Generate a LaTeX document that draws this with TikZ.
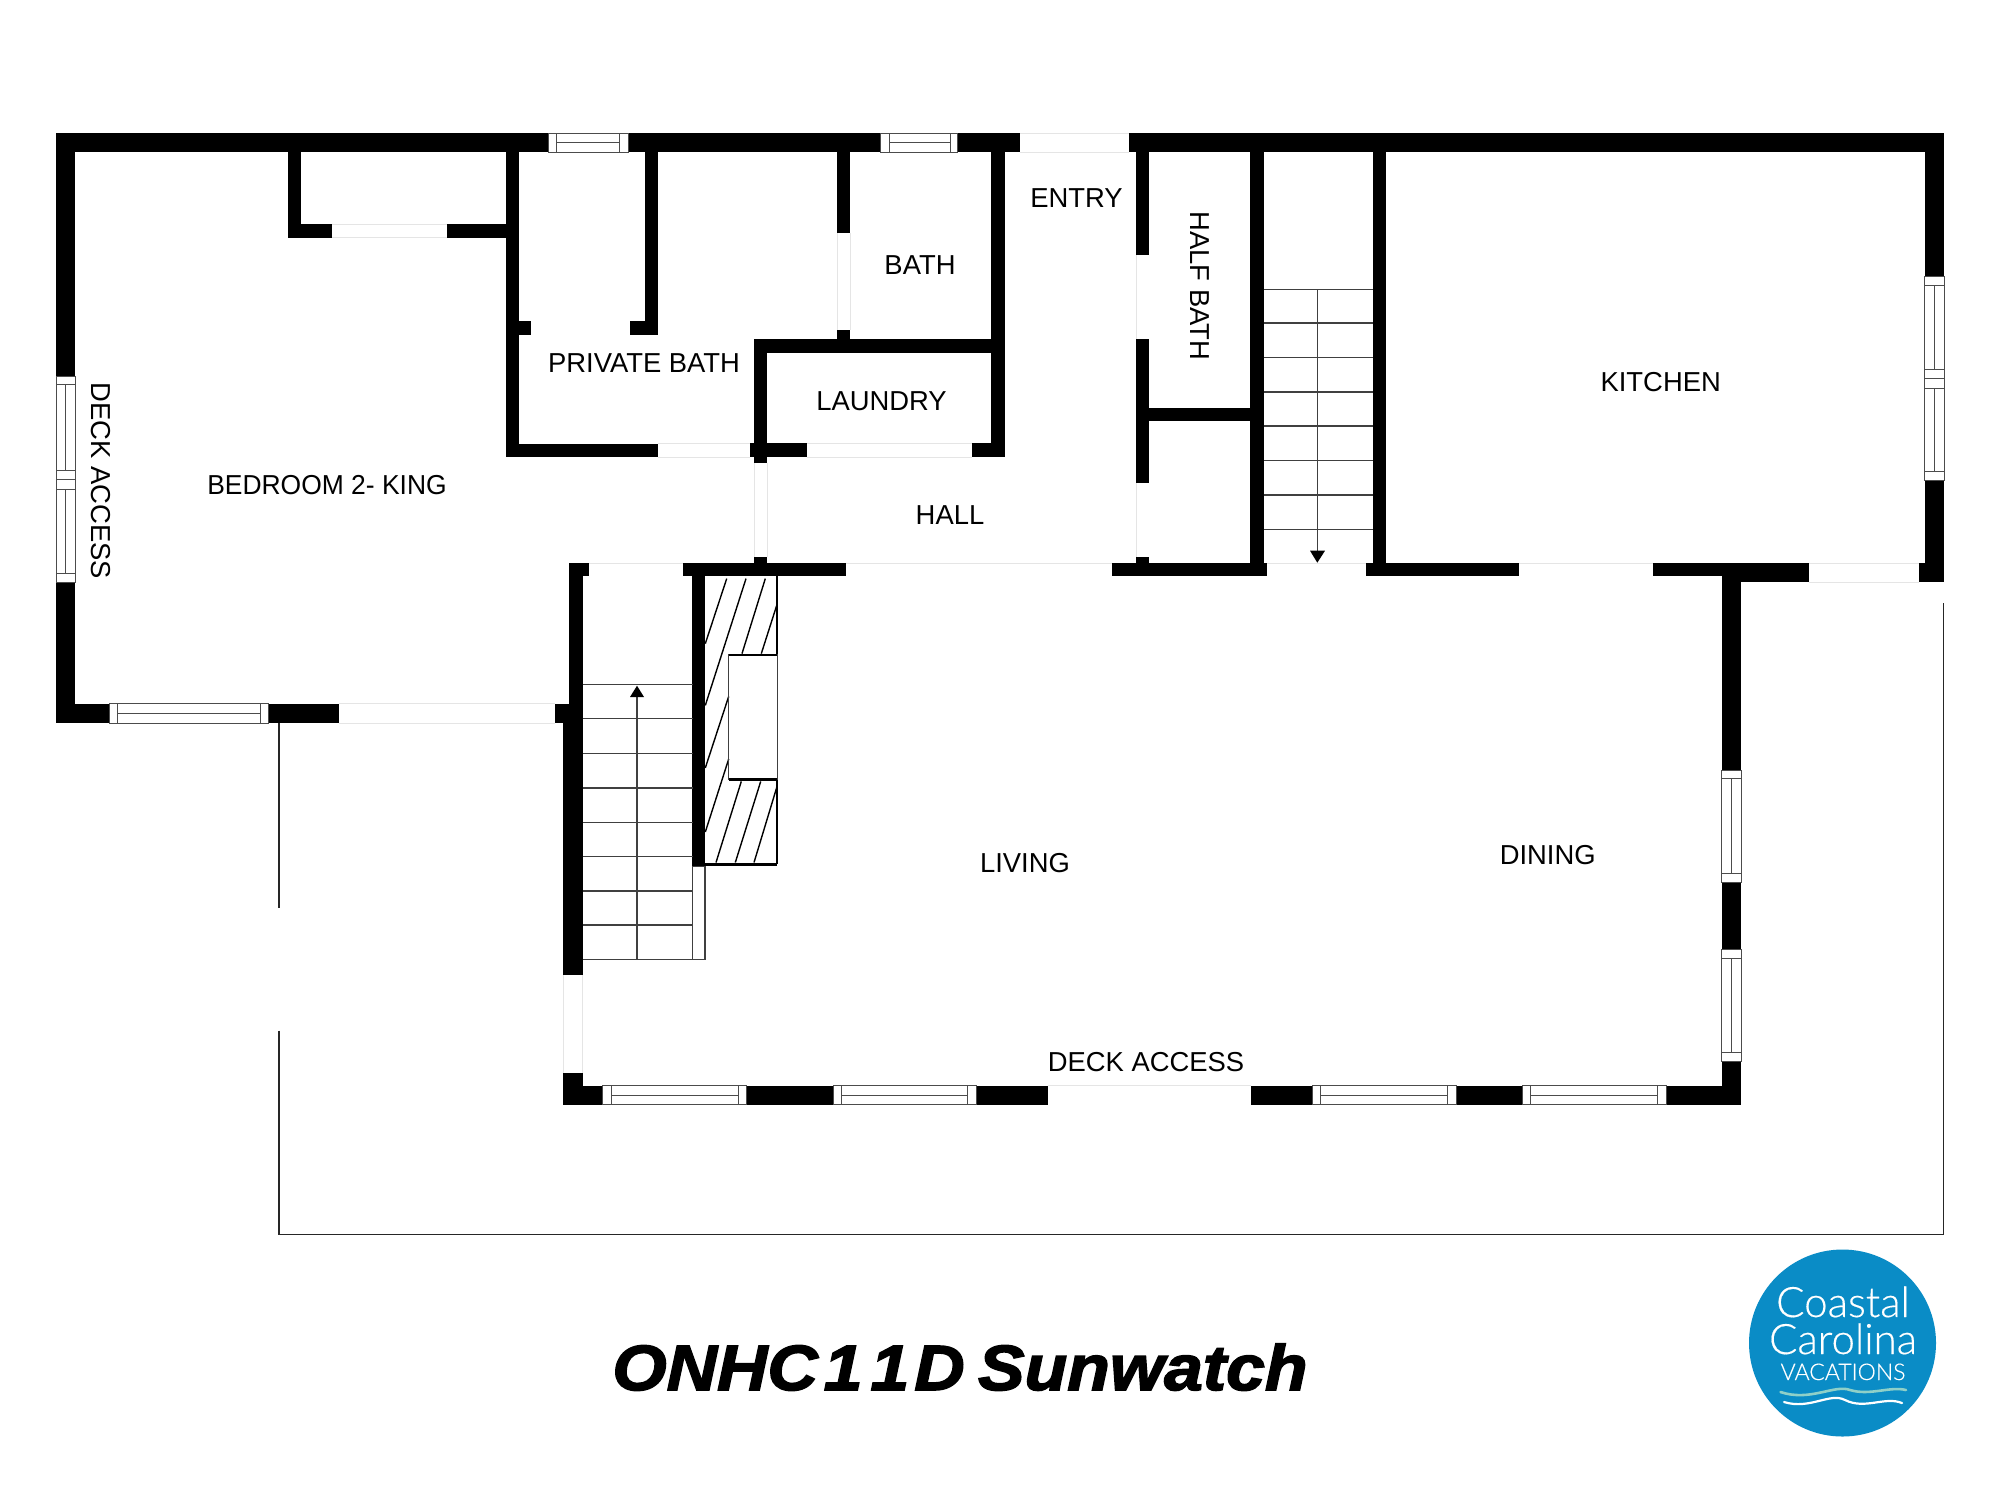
\documentclass[tikz,border=0pt]{standalone}
\usepackage{fontspec}
\setmainfont{Liberation Sans}
\newfontfamily\titlefont[UprightFont={* Bold Italic},FakeBold=2.4,FakeStretch=1.09]{Liberation Sans}
\newfontfamily\logofont[FakeBold=0.35]{Lato Light}
\definecolor{logoblue}{HTML}{0A8CC6}
\definecolor{logoteal}{HTML}{8FD0C8}
\newcommand{\wl}[4]{\fill[wallfill] (#1,#2) rectangle (#3,#4);}
% horizontal window: x1 x2 m1 m2 y1 y2
\newcommand{\winh}[6]{%
  \fill[white] (#1,#5) rectangle (#2,#6);
  \draw[winline] (#1,#5) rectangle (#2,#6);
  \draw[winline] (#3,#5) -- (#3,#6) (#4,#5) -- (#4,#6);
  \draw[winline] (#3,{(#5+#6)/2}) -- (#4,{(#5+#6)/2});}
% double vertical window: y1 y2, mullions m1..m5, x1 x2
\newcommand{\winvv}[9]{%
  \fill[white] (#8,#1) rectangle (#9,#2);
  \draw[winline] (#8,#1) rectangle (#9,#2);
  \draw[winline] (#8,#3) -- (#9,#3) (#8,#4) -- (#9,#4) (#8,#5) -- (#9,#5) (#8,#6) -- (#9,#6) (#8,#7) -- (#9,#7);
  \draw[winline] ({(#8+#9)/2},#3) -- ({(#8+#9)/2},#4) ({(#8+#9)/2},#6) -- ({(#8+#9)/2},#7);}
% single vertical window: y1 y2 m1 m2 x1 x2
\newcommand{\winv}[6]{%
  \fill[white] (#5,#1) rectangle (#6,#2);
  \draw[winline] (#5,#1) rectangle (#6,#2);
  \draw[winline] (#5,#3) -- (#6,#3) (#5,#4) -- (#6,#4);
  \draw[winline] ({(#5+#6)/2},#3) -- ({(#5+#6)/2},#4);}
\begin{document}
\begin{tikzpicture}[x=0.5pt,y=-0.5pt,
  wallfill/.style={fill=black},
  winline/.style={draw=black!70,line width=0.45pt},
  doorgap/.style={draw=black!10,line width=0.4pt},
  stairline/.style={draw=black!75,line width=0.65pt},
  hatchline/.style={draw=black,line width=0.7pt},
  deckline/.style={draw=black!85,line width=0.8pt},
  room/.style={inner sep=0pt,anchor=base,font=\fontsize{13.7}{16}\selectfont},
  roomv/.style={inner sep=0pt,anchor=base,rotate=-90,font=\fontsize{13.7}{16}\selectfont}]
\useasboundingbox (0,0) rectangle (2000,1500);
\fill[white] (0,0) rectangle (2000,1500);

% deck outline
\draw[deckline] (279,723) -- (279,908);
\draw[deckline] (279,1030.6) -- (279,1234.4) -- (1943.4,1234.4) -- (1943.4,603);

% door gaps (faint)
\draw[doorgap] (1020,133) -- (1129.4,133) (1020,152) -- (1129.4,152);
\draw[doorgap] (332,224) -- (447,224) (332,237.6) -- (447,237.6);
\draw[doorgap] (658,443.7) -- (749.5,443.7) (658,457) -- (749.5,457);
\draw[doorgap] (807,443.3) -- (971.8,443.3) (807,457.3) -- (971.8,457.3);
\draw[doorgap] (754.4,462.7) -- (754.4,556.7) (767.3,462.7) -- (767.3,556.7);
\draw[doorgap] (837,232.7) -- (837,330) (850,232.7) -- (850,330);
\draw[doorgap] (1136,255) -- (1136,338.7) (1136,482.7) -- (1136,556.7);
\draw[doorgap] (339,703.7) -- (555,703.7) (339,723) -- (555,723);
\draw[doorgap] (589,563) -- (683,563);
\draw[doorgap] (846,563) -- (1111.5,563);
\draw[doorgap] (1267,563) -- (1365.5,563);
\draw[doorgap] (1518.5,563) -- (1653,563);
\draw[doorgap] (1809.4,563) -- (1919,563) (1809.4,582.3) -- (1919,582.3);
\draw[doorgap] (563.3,975) -- (563.3,1073) (582.7,975) -- (582.7,1073);
\draw[doorgap] (1047.7,1085.5) -- (1250.7,1085.5);

% outer top wall
\wl{56}{133}{548}{152}
\wl{628}{133}{880}{152}
\wl{957.5}{133}{1020}{152}
\wl{1129.4}{133}{1944}{152}
% left wall
\wl{56}{133}{75.4}{376}
\wl{56}{582.5}{75.4}{723}
% bedroom bottom wall
\wl{56}{703.7}{109}{723}
\wl{268.6}{703.7}{339}{723}
\wl{555}{704}{569.3}{723}
% closet
\wl{288}{152}{301}{237.6}
\wl{288}{224}{332}{237.6}
\wl{447}{224}{506}{237.6}
% private bath
\wl{506}{152}{519}{457}
\wl{519}{321}{531}{334.7}
\wl{645}{152}{658}{334.7}
\wl{629.5}{321}{658}{334.7}
\wl{506}{443.7}{658}{457}
% bath and laundry
\wl{837}{152}{850}{232.7}
\wl{837}{330}{850}{340}
\wl{991.4}{152}{1005}{457.3}
\wl{754.4}{339.3}{1005}{352.7}
\wl{754.4}{339.3}{767.3}{462.7}
\wl{749.5}{443.3}{807}{457.3}
\wl{971.8}{443.3}{1005}{457.3}
% hall lower wall
\wl{683}{563}{846}{575.7}
\wl{754.4}{556.6}{767.3}{563}
% stair left wall
\wl{569.3}{563}{589}{575.7}
\wl{569.3}{563}{582.7}{723}
\wl{563.3}{723}{582.7}{975}
\wl{692.3}{563}{705.3}{866.8}
% half bath
\wl{1136}{152}{1148.6}{255}
\wl{1136}{338.7}{1148.6}{482.7}
\wl{1136}{556.7}{1148.6}{563}
\wl{1148.6}{408}{1250.4}{421}
\wl{1250.4}{152}{1263.8}{575.7}
\wl{1372.7}{152}{1386}{575.7}
\wl{1111.5}{562.7}{1267}{575.7}
% kitchen
\wl{1924.6}{133}{1944}{276.7}
\wl{1924.6}{480}{1944}{582.3}
\wl{1365.5}{562.7}{1518.5}{575.7}
\wl{1653}{562.7}{1741}{575.7}
\wl{1741}{562.7}{1809.4}{582.3}
\wl{1919}{562.7}{1944}{582.3}
% dining right wall
\wl{1721.8}{570}{1741}{770}
\wl{1721.8}{882}{1741}{949.4}
\wl{1721.8}{1061}{1741}{1104.5}
% bottom wall
\wl{563.3}{1073}{582.7}{1104.5}
\wl{563.3}{1085.6}{602}{1104.5}
\wl{746.6}{1085.6}{833}{1104.5}
\wl{976}{1085.6}{1047.7}{1104.5}
\wl{1250.7}{1085.6}{1312.7}{1104.5}
\wl{1456}{1085.6}{1522}{1104.5}
\wl{1666.6}{1085.6}{1741}{1104.5}

% windows
\winh{548}{628}{556.5}{619.4}{133}{152}
\winh{880}{957.5}{889}{950}{133}{152}
\winh{109}{268.6}{117}{260}{703.7}{723}
\winh{602}{746.6}{611.4}{738}{1085.6}{1104.5}
\winh{833}{976}{841.5}{967.5}{1085.6}{1104.5}
\winh{1312.7}{1456}{1320.5}{1447.5}{1085.6}{1104.5}
\winh{1522}{1666.6}{1530.8}{1657.8}{1085.6}{1104.5}
\winvv{376}{582.5}{384.5}{470}{479.5}{489}{573}{56}{75.4}
\winvv{276.7}{480}{285.7}{369}{378.5}{388}{471.7}{1924.6}{1944}
\winv{770}{882}{778.8}{873.3}{1721.8}{1741}
\winv{949.4}{1061}{958}{1052.6}{1721.8}{1741}

% stair up
\foreach \yy in {684.3,718.6,753.6,788,822.5,856.4,891,925,959.3}
  \draw[stairline] (582.7,\yy) -- (692.7,\yy);
\draw[stairline] (637,959.3) -- (637,697);
\fill[black] (637,685.7) -- (644,697) -- (630,697) -- cycle;
\draw[stairline] (692.7,866.8) rectangle (705,959.3);

% stair down
\foreach \yy in {289.3,323,357.7,392,426,460.7,495,529.3}
  \draw[stairline] (1263.8,\yy) -- (1372.7,\yy);
\draw[stairline] (1317.3,289.3) -- (1317.3,551);
\fill[black] (1317.3,562.7) -- (1325,550.7) -- (1310,550.7) -- cycle;

% fireplace
\draw[hatchline] (777,575.7) -- (777,655) (777,779.3) -- (777,864.4);
\draw[draw=black,line width=1.1pt] (705.3,864.4) -- (777,864.4);
\foreach \a/\b/\c/\d in {726.7/578.6/705.3/643.6, 746/578.6/705.3/705.4, 765.3/578.6/742/653.6,
  776.7/605.4/761.3/653.6, 728.7/696.4/705.3/767.9, 728.7/759/705.3/832,
  741.3/781.4/716/862.5, 760.7/781.4/735.3/862.5, 776.7/787.5/754/862.5}
  \draw[hatchline] (\a,\b) -- (\c,\d);
\draw[draw=black!75,line width=0.7pt] (728.7,655) rectangle (777.3,779.3);
\draw[draw=black,line width=1.2pt] (728.7,655) -- (777.3,655) (728.7,779.3) -- (777.3,779.3);

% room labels
\node[room,xscale=0.965] (bedroom) at (327,494.7) {BEDROOM 2- KING};
\node[roomv] (deckleft) at (91,481) {DECK ACCESS};
\node[room] (privatebath) at (644,372) {PRIVATE BATH};
\node[room] (bath) at (920,274.3) {BATH};
\node[room] (laundry) at (881.5,410) {LAUNDRY};
\node[room] (entry) at (1076.5,207.5) {ENTRY};
\node[room] (hall) at (950,524.5) {HALL};
\node[roomv] (halfbath) at (1190,286) {HALF BATH};
\node[room] (kitchen) at (1660.7,391) {KITCHEN};
\node[room] (dining) at (1547.7,864) {DINING};
\node[room] (living) at (1025,872.5) {LIVING};
\node[room] (deckbottom) at (1146,1071) {DECK ACCESS};

% title
\node[inner sep=0pt,anchor=base,font=\titlefont\fontsize{32}{36}\selectfont] (title) at (960,1390) {ONHC\kern3pt 1\kern4pt 1\kern2.5pt D\kern-3pt\ Sunwatch};

% logo
\fill[logoblue] (1842.5,1343) circle[radius=93.5];
\node[inner sep=0pt,anchor=base,text=white,font=\logofont\fontsize{21}{24}\selectfont] (coastal) at (1843,1317) {Coastal};
\node[inner sep=0pt,anchor=base,text=white,font=\logofont\fontsize{21}{24}\selectfont] (carolina) at (1843,1354) {Carolina};
\node[inner sep=0pt,anchor=base,text=white,font=\logofont\fontsize{11.5}{14}\selectfont] (vacations) at (1843,1380) {VACATIONS};
\draw[logoteal,line width=1.3pt,line cap=round] (1780.5,1392) .. controls (1810,1402) and (1835,1384) .. (1850,1390) .. controls (1870,1396) and (1890,1386) .. (1906,1390);
\draw[white,line width=1.1pt,line cap=round] (1784,1402) .. controls (1810,1410) and (1830,1392) .. (1845,1400) .. controls (1865,1410) and (1885,1396) .. (1902,1403);
\end{tikzpicture}
\end{document}
